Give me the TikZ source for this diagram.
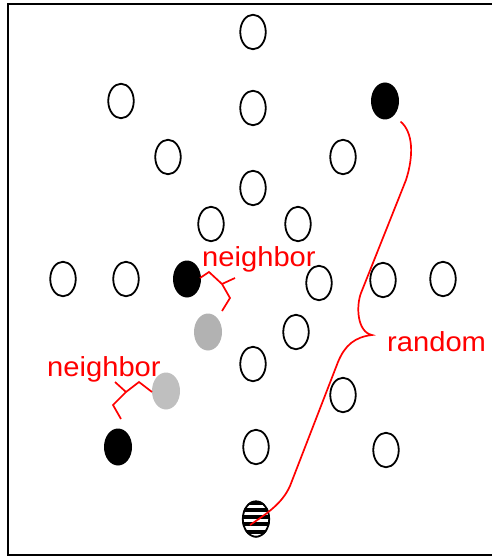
\documentclass[tikz,border=0pt]{standalone}
\usepackage{fontspec}
\setmainfont{Liberation Sans}
\usetikzlibrary{shapes.geometric}
\begin{document}
\begin{tikzpicture}[x=1pt,y=-1pt,
  ell/.style={ellipse,draw=black,line width=1.8pt,minimum width=25.5pt,minimum height=34.5pt,inner sep=0pt},
  blk/.style={ellipse,fill=black,minimum width=28pt,minimum height=37pt,inner sep=0pt},
  gry/.style={ellipse,fill=#1,minimum width=28pt,minimum height=37pt,inner sep=0pt},
  rl/.style={red,line width=1.7pt},
  lbl/.style={red,inner sep=0pt,font=\fontsize{27.5}{30}\selectfont}]
\useasboundingbox (0,0) rectangle (491,556);
\draw[line width=1.6pt] (8,4) rectangle (500,555);
% open ellipses
\node[ell] (a1) at (253,32) {};
\node[ell] (a2) at (121,101) {};
\node[ell] (a3) at (253,108) {};
\node[ell] (a4) at (168,157) {};
\node[ell] (a5) at (343,157) {};
\node[ell] (a6) at (253,188) {};
\node[ell] (a7) at (211,224) {};
\node[ell] (a8) at (298,224) {};
\node[ell] (a9) at (63,279) {};
\node[ell] (a10) at (126,279) {};
\node[ell] (a11) at (319,283) {};
\node[ell] (a12) at (383,280) {};
\node[ell] (a13) at (443,279) {};
\node[ell] (a14) at (296,332) {};
\node[ell] (a15) at (253,364) {};
\node[ell] (a16) at (343,395) {};
\node[ell] (a17) at (256,447) {};
\node[ell] (a18) at (386,450) {};
% filled
\node[blk] (b1) at (385,101) {};
\node[blk] (b2) at (187,279) {};
\node[blk] (b3) at (118,447) {};
\node[gry={black!30}] (g1) at (208,332) {};
\node[gry={black!25}] (g2) at (166,391) {};
% striped
\node[ellipse,minimum width=28pt,minimum height=37pt,inner sep=0pt] (s) at (256,519) {};
\begin{scope}
  \clip (256,519) ellipse [x radius=14, y radius=18.5];
  \foreach \k in {0,...,5} {
    \fill[black] (240,{500.5+7.3*\k}) rectangle (272,{504.5+7.3*\k});
  }
\end{scope}
\draw[line width=1.8pt] (256,519) ellipse [x radius=13.2, y radius=17.7];
% random curve
\coordinate (rs) at ([shift={(5,8)}]b1.-50);
\coordinate (re) at ([xshift=-6pt,yshift=-6pt]s.center);
\draw[rl] (rs) .. controls (413,132) and (414,155) .. (406,180) -- (361,293)
  .. controls (356,306) and (357,332) .. (372,335)
  .. controls (355,337) and (345,345) .. (338,362) -- (290,486)
  .. controls (282,504) and (266,514) .. (re);
\node[lbl,anchor=base west] (rt) at (387,351.5) {\scalebox{1.06}[1]{random}};
% neighbor 1
\draw[rl,line join=miter] (200,278) -- (209,272) -- (222,284) -- (235,278)
  (222,284) -- (230,298) -- (222,311);
\node[lbl,anchor=base west] (n1) at (202,266.5) {\scalebox{1.06}[1]{neighbor}};
% neighbor 2
\draw[rl,line join=miter] (152,392) -- (139,382) -- (126,392) -- (115,382)
  (126,392) -- (113,405) -- (121,419);
\node[lbl,anchor=base west] (n2) at (47,376) {\scalebox{1.06}[1]{neighbor}};
\end{tikzpicture}
\end{document}
